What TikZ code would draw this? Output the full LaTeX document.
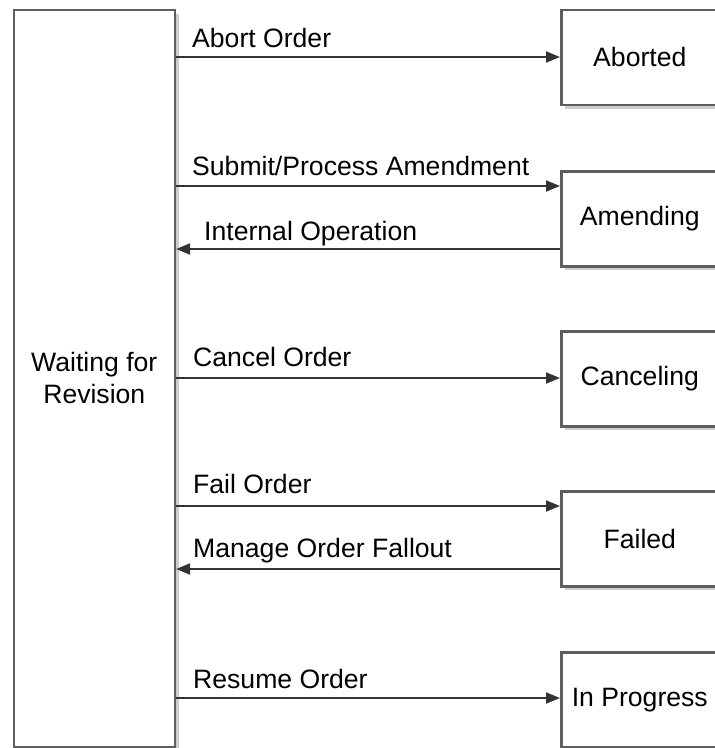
\documentclass[tikz,border=0pt]{standalone}
\usepackage{fontspec}
\setmainfont{Liberation Sans}
\usetikzlibrary{arrows.meta,shadows}
\definecolor{boxline}{HTML}{5E5E5E}
\definecolor{arrline}{HTML}{333333}
\tikzset{
  statebox/.style={draw=boxline, line width=2.6pt, fill=white, inner sep=0pt,
    anchor=north west, align=center,
    font=\fontsize{26.6}{32}\selectfont,
    drop shadow={shadow xshift=4pt, shadow yshift=-4pt, fill=black, opacity=0.2}},
  arr/.style={draw=arrline, line width=2pt, -{Triangle[length=14pt,width=11pt]}},
  lbl/.style={anchor=base west, inner sep=0pt, font=\fontsize{26.6}{32}\selectfont}
}
\begin{document}
\begin{tikzpicture}[x=1pt,y=-1pt]
\useasboundingbox (0,0) rectangle (715,748);
% left state
\node[statebox, minimum width=161pt, minimum height=737pt] (wait) at (12.5,8.5) {Waiting for\\Revision};
% right states
\node[statebox, minimum width=157pt, minimum height=95pt] (abo) at (560,8.5) {Aborted};
\node[statebox, minimum width=157pt, minimum height=95pt] (amd) at (560,170) {Amending};
\node[statebox, minimum width=157pt, minimum height=95pt] (can) at (560,330) {Canceling};
\node[statebox, minimum width=157pt, minimum height=95pt] (fai) at (560,490) {Failed};
\node[statebox, minimum width=157pt, minimum height=95pt] (inp) at (560,651) {In Progress};
% connector heights
\coordinate (yA) at (0,57);
\coordinate (yS) at (0,186);
\coordinate (yI) at (0,249);
\coordinate (yC) at (0,378);
\coordinate (yF) at (0,506);
\coordinate (yM) at (0,569);
\coordinate (yR) at (0,698);
% connectors
\draw[arr] (wait.east |- yA) -- (abo.west |- yA);
\draw[arr] (wait.east |- yS) -- (amd.west |- yS);
\draw[arr] (amd.west |- yI) -- (wait.east |- yI);
\draw[arr] (wait.east |- yC) -- (can.west |- yC);
\draw[arr] (wait.east |- yF) -- (fai.west |- yF);
\draw[arr] (fai.west |- yM) -- (wait.east |- yM);
\draw[arr] (wait.east |- yR) -- (inp.west |- yR);
% labels
\node[lbl] (lA) at (192,47) {Abort Order};
\node[lbl] (lS) at (192,175) {Submit/Process Amendment};
\node[lbl] (lI) at (204,240) {Internal Operation};
\node[lbl] (lC) at (193,366) {Cancel Order};
\node[lbl] (lF) at (193,493) {Fail Order};
\node[lbl] (lM) at (193,557) {Manage Order Fallout};
\node[lbl] (lR) at (193,688) {Resume Order};
\end{tikzpicture}
\end{document}
